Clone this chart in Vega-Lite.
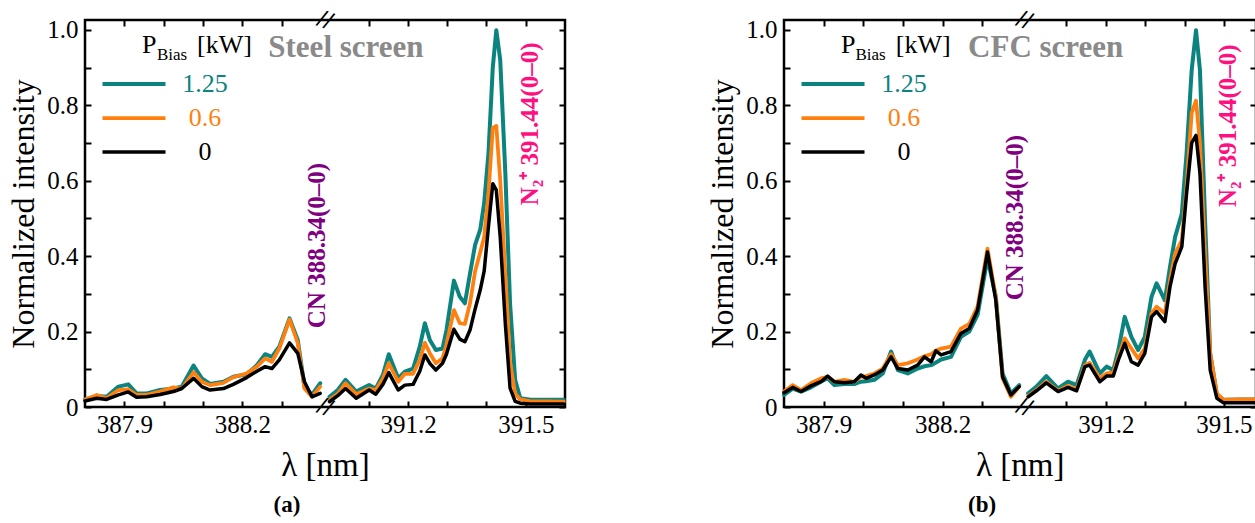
{
  "$schema": "https://vega.github.io/schema/vega-lite/v6.json",
  "padding": {"left": 6, "top": 4, "right": 0, "bottom": 0},
  "spacing": 137,
  "config": {
    "font": "Liberation Serif",
    "view": {"stroke": "black", "strokeWidth": 2.5},
    "axis": {"grid": false, "domain": false, "tickColor": "black", "tickWidth": 2, "labelColor": "black", "titleColor": "black", "labelFont": "Liberation Serif", "titleFont": "Liberation Serif"},
    "legend": {
      "orient": "none", "legendX": 36, "legendY": 51, "title": null, "padding": 0,
      "symbolType": "M-3,0H3", "symbolSize": 441, "rowPadding": 8,
      "labelFont": "Liberation Serif", "labelFontSize": 26, "labelAlign": "center", "labelBaseline": "middle", "labelOffset": 58,
      "labelColor": {"expr": "datum.value=='t' ? '#0b837f' : datum.value=='o' ? '#ff800e' : '#000000'"}
    }
  },
  "resolve": {
    "scale": {"x": "independent", "y": "independent", "color": "independent", "strokeWidth": "independent"},
    "legend": {"color": "independent", "strokeWidth": "independent"}
  },
  "datasets": {
    "spec": [
      {"p":"a","g":"L","x":387.800,"t":0.020,"o":0.019,"k":0.016},
      {"p":"a","g":"L","x":387.830,"t":0.029,"o":0.032,"k":0.023},
      {"p":"a","g":"L","x":387.855,"t":0.027,"o":0.023,"k":0.020},
      {"p":"a","g":"L","x":387.885,"t":0.054,"o":0.045,"k":0.032},
      {"p":"a","g":"L","x":387.910,"t":0.060,"o":0.047,"k":0.040},
      {"p":"a","g":"L","x":387.931,"t":0.036,"o":0.032,"k":0.026},
      {"p":"a","g":"L","x":387.957,"t":0.036,"o":0.032,"k":0.027},
      {"p":"a","g":"L","x":387.991,"t":0.045,"o":0.041,"k":0.033},
      {"p":"a","g":"L","x":388.025,"t":0.049,"o":0.052,"k":0.041},
      {"p":"a","g":"L","x":388.046,"t":0.054,"o":0.049,"k":0.049},
      {"p":"a","g":"L","x":388.076,"t":0.110,"o":0.092,"k":0.076},
      {"p":"a","g":"L","x":388.097,"t":0.076,"o":0.067,"k":0.054},
      {"p":"a","g":"L","x":388.118,"t":0.061,"o":0.058,"k":0.045},
      {"p":"a","g":"L","x":388.152,"t":0.067,"o":0.064,"k":0.049},
      {"p":"a","g":"L","x":388.177,"t":0.080,"o":0.079,"k":0.060},
      {"p":"a","g":"L","x":388.211,"t":0.087,"o":0.089,"k":0.078},
      {"p":"a","g":"L","x":388.237,"t":0.111,"o":0.107,"k":0.095},
      {"p":"a","g":"L","x":388.258,"t":0.140,"o":0.129,"k":0.107},
      {"p":"a","g":"L","x":388.275,"t":0.133,"o":0.120,"k":0.102},
      {"p":"a","g":"L","x":388.294,"t":0.160,"o":0.155,"k":0.125},
      {"p":"a","g":"L","x":388.320,"t":0.235,"o":0.232,"k":0.170},
      {"p":"a","g":"L","x":388.341,"t":0.177,"o":0.169,"k":0.142},
      {"p":"a","g":"L","x":388.358,"t":0.054,"o":0.049,"k":0.067},
      {"p":"a","g":"L","x":388.377,"t":0.032,"o":0.027,"k":0.027},
      {"p":"a","g":"L","x":388.398,"t":0.063,"o":0.054,"k":0.036},
      {"p":"a","g":"R","x":391.000,"t":0.027,"o":0.019,"k":0.014},
      {"p":"a","g":"R","x":391.021,"t":0.045,"o":0.035,"k":0.030},
      {"p":"a","g":"R","x":391.041,"t":0.072,"o":0.063,"k":0.049},
      {"p":"a","g":"R","x":391.068,"t":0.041,"o":0.034,"k":0.023},
      {"p":"a","g":"R","x":391.101,"t":0.058,"o":0.049,"k":0.045},
      {"p":"a","g":"R","x":391.118,"t":0.049,"o":0.045,"k":0.034},
      {"p":"a","g":"R","x":391.136,"t":0.085,"o":0.075,"k":0.060},
      {"p":"a","g":"R","x":391.151,"t":0.140,"o":0.116,"k":0.091},
      {"p":"a","g":"R","x":391.175,"t":0.076,"o":0.067,"k":0.045},
      {"p":"a","g":"R","x":391.192,"t":0.094,"o":0.088,"k":0.058},
      {"p":"a","g":"R","x":391.213,"t":0.102,"o":0.088,"k":0.060},
      {"p":"a","g":"R","x":391.230,"t":0.160,"o":0.125,"k":0.095},
      {"p":"a","g":"R","x":391.243,"t":0.222,"o":0.170,"k":0.138},
      {"p":"a","g":"R","x":391.256,"t":0.177,"o":0.142,"k":0.115},
      {"p":"a","g":"R","x":391.271,"t":0.151,"o":0.116,"k":0.098},
      {"p":"a","g":"R","x":391.288,"t":0.155,"o":0.129,"k":0.116},
      {"p":"a","g":"R","x":391.298,"t":0.204,"o":0.165,"k":0.140},
      {"p":"a","g":"R","x":391.317,"t":0.335,"o":0.257,"k":0.206},
      {"p":"a","g":"R","x":391.332,"t":0.292,"o":0.222,"k":0.180},
      {"p":"a","g":"R","x":391.345,"t":0.275,"o":0.220,"k":0.173},
      {"p":"a","g":"R","x":391.358,"t":0.354,"o":0.275,"k":0.204},
      {"p":"a","g":"R","x":391.371,"t":0.430,"o":0.360,"k":0.260},
      {"p":"a","g":"R","x":391.384,"t":0.470,"o":0.410,"k":0.310},
      {"p":"a","g":"R","x":391.394,"t":0.540,"o":0.450,"k":0.360},
      {"p":"a","g":"R","x":391.405,"t":0.672,"o":0.566,"k":0.478},
      {"p":"a","g":"R","x":391.416,"t":0.900,"o":0.740,"k":0.592},
      {"p":"a","g":"R","x":391.425,"t":0.999,"o":0.745,"k":0.575},
      {"p":"a","g":"R","x":391.435,"t":0.920,"o":0.600,"k":0.450},
      {"p":"a","g":"R","x":391.448,"t":0.620,"o":0.350,"k":0.220},
      {"p":"a","g":"R","x":391.460,"t":0.275,"o":0.120,"k":0.050},
      {"p":"a","g":"R","x":391.473,"t":0.072,"o":0.035,"k":0.015},
      {"p":"a","g":"R","x":391.486,"t":0.023,"o":0.020,"k":0.010},
      {"p":"a","g":"R","x":391.512,"t":0.019,"o":0.015,"k":0.008},
      {"p":"a","g":"R","x":391.554,"t":0.019,"o":0.015,"k":0.008},
      {"p":"a","g":"R","x":391.597,"t":0.019,"o":0.014,"k":0.008},
      {"p":"b","g":"L","x":387.800,"t":0.032,"o":0.041,"k":0.038},
      {"p":"b","g":"L","x":387.822,"t":0.049,"o":0.058,"k":0.052},
      {"p":"b","g":"L","x":387.843,"t":0.041,"o":0.045,"k":0.041},
      {"p":"b","g":"L","x":387.868,"t":0.052,"o":0.063,"k":0.056},
      {"p":"b","g":"L","x":387.893,"t":0.067,"o":0.076,"k":0.067},
      {"p":"b","g":"L","x":387.910,"t":0.076,"o":0.080,"k":0.082},
      {"p":"b","g":"L","x":387.927,"t":0.058,"o":0.067,"k":0.067},
      {"p":"b","g":"L","x":387.952,"t":0.061,"o":0.072,"k":0.064},
      {"p":"b","g":"L","x":387.977,"t":0.061,"o":0.067,"k":0.067},
      {"p":"b","g":"L","x":387.994,"t":0.067,"o":0.080,"k":0.085},
      {"p":"b","g":"L","x":388.007,"t":0.068,"o":0.082,"k":0.076},
      {"p":"b","g":"L","x":388.028,"t":0.072,"o":0.089,"k":0.085},
      {"p":"b","g":"L","x":388.049,"t":0.089,"o":0.102,"k":0.098},
      {"p":"b","g":"L","x":388.070,"t":0.147,"o":0.140,"k":0.133},
      {"p":"b","g":"L","x":388.087,"t":0.098,"o":0.111,"k":0.102},
      {"p":"b","g":"L","x":388.112,"t":0.089,"o":0.116,"k":0.098},
      {"p":"b","g":"L","x":388.137,"t":0.102,"o":0.126,"k":0.111},
      {"p":"b","g":"L","x":388.154,"t":0.108,"o":0.135,"k":0.133},
      {"p":"b","g":"L","x":388.171,"t":0.111,"o":0.140,"k":0.120},
      {"p":"b","g":"L","x":388.183,"t":0.118,"o":0.150,"k":0.149},
      {"p":"b","g":"L","x":388.196,"t":0.126,"o":0.155,"k":0.138},
      {"p":"b","g":"L","x":388.221,"t":0.133,"o":0.160,"k":0.147},
      {"p":"b","g":"L","x":388.246,"t":0.186,"o":0.208,"k":0.195},
      {"p":"b","g":"L","x":388.267,"t":0.200,"o":0.220,"k":0.208},
      {"p":"b","g":"L","x":388.288,"t":0.244,"o":0.266,"k":0.257},
      {"p":"b","g":"L","x":388.313,"t":0.394,"o":0.420,"k":0.411},
      {"p":"b","g":"L","x":388.334,"t":0.292,"o":0.292,"k":0.283},
      {"p":"b","g":"L","x":388.351,"t":0.089,"o":0.076,"k":0.080},
      {"p":"b","g":"L","x":388.372,"t":0.036,"o":0.027,"k":0.032},
      {"p":"b","g":"L","x":388.393,"t":0.058,"o":0.054,"k":0.054},
      {"p":"b","g":"R","x":391.003,"t":0.036,"o":0.029,"k":0.027},
      {"p":"b","g":"R","x":391.024,"t":0.054,"o":0.045,"k":0.043},
      {"p":"b","g":"R","x":391.049,"t":0.082,"o":0.067,"k":0.064},
      {"p":"b","g":"R","x":391.079,"t":0.049,"o":0.043,"k":0.041},
      {"p":"b","g":"R","x":391.104,"t":0.067,"o":0.056,"k":0.052},
      {"p":"b","g":"R","x":391.126,"t":0.058,"o":0.047,"k":0.043},
      {"p":"b","g":"R","x":391.147,"t":0.125,"o":0.111,"k":0.107},
      {"p":"b","g":"R","x":391.159,"t":0.147,"o":0.117,"k":0.111},
      {"p":"b","g":"R","x":391.185,"t":0.089,"o":0.076,"k":0.067},
      {"p":"b","g":"R","x":391.202,"t":0.107,"o":0.089,"k":0.082},
      {"p":"b","g":"R","x":391.219,"t":0.098,"o":0.091,"k":0.082},
      {"p":"b","g":"R","x":391.232,"t":0.151,"o":0.133,"k":0.125},
      {"p":"b","g":"R","x":391.248,"t":0.239,"o":0.182,"k":0.169},
      {"p":"b","g":"R","x":391.265,"t":0.186,"o":0.155,"k":0.120},
      {"p":"b","g":"R","x":391.282,"t":0.151,"o":0.129,"k":0.111},
      {"p":"b","g":"R","x":391.299,"t":0.186,"o":0.155,"k":0.142},
      {"p":"b","g":"R","x":391.316,"t":0.292,"o":0.248,"k":0.239},
      {"p":"b","g":"R","x":391.329,"t":0.328,"o":0.266,"k":0.253},
      {"p":"b","g":"R","x":391.350,"t":0.283,"o":0.248,"k":0.226},
      {"p":"b","g":"R","x":391.363,"t":0.372,"o":0.336,"k":0.319},
      {"p":"b","g":"R","x":391.376,"t":0.451,"o":0.407,"k":0.380},
      {"p":"b","g":"R","x":391.393,"t":0.513,"o":0.442,"k":0.425},
      {"p":"b","g":"R","x":391.405,"t":0.672,"o":0.584,"k":0.566},
      {"p":"b","g":"R","x":391.418,"t":0.893,"o":0.780,"k":0.700},
      {"p":"b","g":"R","x":391.429,"t":0.999,"o":0.812,"k":0.720},
      {"p":"b","g":"R","x":391.439,"t":0.893,"o":0.700,"k":0.620},
      {"p":"b","g":"R","x":391.452,"t":0.495,"o":0.407,"k":0.319},
      {"p":"b","g":"R","x":391.465,"t":0.142,"o":0.142,"k":0.098},
      {"p":"b","g":"R","x":391.482,"t":0.032,"o":0.036,"k":0.023},
      {"p":"b","g":"R","x":391.499,"t":0.019,"o":0.019,"k":0.011},
      {"p":"b","g":"R","x":391.541,"t":0.020,"o":0.020,"k":0.011},
      {"p":"b","g":"R","x":391.580,"t":0.020,"o":0.020,"k":0.011}
    ],
    "ann": [
      {"p":"a","k":"title","x":388.266,"y":0.927,"t":"Steel screen"},
      {"p":"a","k":"cn","x":388.39,"y":0.209,"t":"CN 388.34(0–0)"},
      {"p":"a","k":"n2","x":391.51,"y":0.535,"t":"N₂⁺ 391.44(0–0)"},
      {"p":"a","k":"leg","x":387.945,"y":0.938,"t":"P"},
      {"p":"a","k":"leg","x":388.085,"y":0.938,"t":"[kW]"},
      {"p":"a","k":"sub","x":387.983,"y":0.919,"t":"Bias"},
      {"p":"a","k":"brk","x":389.7,"y":0,"t":"//"},
      {"p":"a","k":"brk","x":389.7,"y":1.026,"t":"//"},
      {"p":"b","k":"title","x":388.264,"y":0.927,"t":"CFC screen"},
      {"p":"b","k":"cn","x":388.382,"y":0.283,"t":"CN 388.34(0–0)"},
      {"p":"b","k":"n2","x":391.511,"y":0.53,"t":"N₂⁺ 391.44(0–0)"},
      {"p":"b","k":"leg","x":387.944,"y":0.938,"t":"P"},
      {"p":"b","k":"leg","x":388.082,"y":0.938,"t":"[kW]"},
      {"p":"b","k":"sub","x":387.98,"y":0.919,"t":"Bias"},
      {"p":"b","k":"brk","x":389.7,"y":0,"t":"//"},
      {"p":"b","k":"brk","x":389.7,"y":1.026,"t":"//"}
    ]
  },
  "hconcat": [
    {
      "width": 480, "height": 387,
      "title": {"text": "(a)", "orient": "bottom", "frame": "bounds", "anchor": "middle", "fontSize": 23, "fontWeight": "bold", "font": "Liberation Serif", "color": "black", "offset": 12},
      "resolve": {"axis": {"x": "independent", "y": "independent"}},
      "layer": [
        {
          "data": {"name": "spec"},
          "transform": [{"filter": "datum.p=='a'"}, {"fold": ["t", "o", "k"], "as": ["s", "y"]}],
          "mark": {"type": "line", "strokeJoin": "round", "strokeCap": "round"},
          "encoding": {
            "x": {"field": "x", "type": "quantitative",
              "scale": {"type": "linear", "domain": [387.8, 388.4, 391.0, 391.6], "range": [0, 236, 244.5, 480], "nice": false, "zero": false},
              "axis": {"values": [387.9, 388.0, 388.1, 388.2, 388.3, 391.1, 391.2, 391.3, 391.4, 391.5],
                "labelExpr": "(datum.value==387.9||datum.value==388.2||datum.value==391.2||datum.value==391.5) ? format(datum.value,'.1f') : ''",
                "tickSize": -6, "labelPadding": 11, "labelFontSize": 25, "labelFlush": false, "labelOverlap": false,
                "title": "λ [nm]", "titleFontSize": 33, "titleFontWeight": "normal", "titlePadding": 12}},
            "y": {"field": "y", "type": "quantitative",
              "scale": {"domain": [0, 1.026], "nice": false, "zero": false},
              "axis": {"values": [0, 0.1, 0.2, 0.3, 0.4, 0.5, 0.6, 0.7, 0.8, 0.9, 1.0],
                "labelExpr": "round(datum.value*10)%2==0 ? (datum.value==0 ? '0' : format(datum.value,'.1f')) : ''",
                "tickSize": -6, "labelPadding": 13, "labelFontSize": 25, "labelFlush": false, "labelOverlap": false,
                "title": "Normalized intensity", "titleFontSize": 32, "titleFontWeight": "normal", "titlePadding": 6}},
            "color": {"field": "s", "type": "nominal", "scale": {"domain": ["t", "o", "k"], "range": ["#0b837f", "#ff800e", "#000000"]},
              "legend": {"labelExpr": "datum.value=='t' ? '1.25' : datum.value=='o' ? '0.6' : '0'"}},
            "strokeWidth": {"field": "s", "type": "ordinal", "scale": {"domain": ["t", "o", "k"], "range": [4, 3.5, 3]},
              "legend": {"labelExpr": "datum.value=='t' ? '1.25' : datum.value=='o' ? '0.6' : '0'"}},
            "detail": {"field": "g"}
          }
        },
        {
          "data": {"name": "ann"},
          "transform": [{"filter": "datum.p=='a' && datum.k=='title'"}],
          "mark": {"type": "text", "font": "Liberation Serif", "fontWeight": "bold", "fontSize": 31, "color": "#8a8a8a", "align": "left", "baseline": "alphabetic"},
          "encoding": {"x": {"field": "x", "type": "quantitative", "axis": null}, "y": {"field": "y", "type": "quantitative", "axis": null}, "text": {"field": "t"}}
        },
        {
          "data": {"name": "ann"},
          "transform": [{"filter": "datum.p=='a' && datum.k=='cn'"}],
          "mark": {"type": "text", "font": "Liberation Serif", "fontWeight": "bold", "fontSize": 25, "color": "#800080", "align": "left", "baseline": "middle", "angle": 270},
          "encoding": {"x": {"field": "x", "type": "quantitative", "axis": null}, "y": {"field": "y", "type": "quantitative", "axis": null}, "text": {"field": "t"}}
        },
        {
          "data": {"name": "ann"},
          "transform": [{"filter": "datum.p=='a' && datum.k=='n2'"}],
          "mark": {"type": "text", "font": "Liberation Serif", "fontWeight": "bold", "fontSize": 25, "color": "#ff1080", "align": "left", "baseline": "middle", "angle": 270},
          "encoding": {"x": {"field": "x", "type": "quantitative", "axis": null}, "y": {"field": "y", "type": "quantitative", "axis": null}, "text": {"field": "t"}}
        },
        {
          "data": {"name": "ann"},
          "transform": [{"filter": "datum.p=='a' && datum.k=='leg'"}],
          "mark": {"type": "text", "font": "Liberation Serif", "fontSize": 26, "color": "black", "align": "left", "baseline": "alphabetic"},
          "encoding": {"x": {"field": "x", "type": "quantitative", "axis": null}, "y": {"field": "y", "type": "quantitative", "axis": null}, "text": {"field": "t"}}
        },
        {
          "data": {"name": "ann"},
          "transform": [{"filter": "datum.p=='a' && datum.k=='sub'"}],
          "mark": {"type": "text", "font": "Liberation Serif", "fontSize": 17, "color": "black", "align": "left", "baseline": "alphabetic"},
          "encoding": {"x": {"field": "x", "type": "quantitative", "axis": null}, "y": {"field": "y", "type": "quantitative", "axis": null}, "text": {"field": "t"}}
        },
        {
          "data": {"name": "ann"},
          "transform": [{"filter": "datum.p=='a' && datum.k=='brk'"}],
          "mark": {"type": "text", "font": "Liberation Serif", "fontWeight": "bold", "fontSize": 26, "angle": 20, "color": "black", "align": "center", "baseline": "middle"},
          "encoding": {
            "x": {"field": "x", "type": "quantitative", "axis": {"orient": "top", "values": [387.9, 388.0, 388.1, 388.2, 388.3, 391.1, 391.2, 391.3, 391.4, 391.5], "labels": false, "tickSize": -6, "title": null}},
            "y": {"field": "y", "type": "quantitative", "axis": {"orient": "right", "values": [0, 0.1, 0.2, 0.3, 0.4, 0.5, 0.6, 0.7, 0.8, 0.9, 1.0], "labels": false, "tickSize": -6, "title": null}},
            "text": {"field": "t"}
          }
        }
      ]
    },
    {
      "width": 472, "height": 387,
      "title": {"text": "(b)", "orient": "bottom", "frame": "bounds", "anchor": "middle", "fontSize": 23, "fontWeight": "bold", "font": "Liberation Serif", "color": "black", "offset": 12},
      "resolve": {"axis": {"x": "independent", "y": "independent"}},
      "layer": [
        {
          "data": {"name": "spec"},
          "transform": [{"filter": "datum.p=='b'"}, {"fold": ["t", "o", "k"], "as": ["s", "y"]}],
          "mark": {"type": "line", "strokeJoin": "round", "strokeCap": "round"},
          "encoding": {
            "x": {"field": "x", "type": "quantitative",
              "scale": {"type": "linear", "domain": [387.8, 388.4, 391.0, 391.58], "range": [0, 238, 243, 471.5], "nice": false, "zero": false},
              "axis": {"values": [387.9, 388.0, 388.1, 388.2, 388.3, 391.1, 391.2, 391.3, 391.4, 391.5],
                "labelExpr": "(datum.value==387.9||datum.value==388.2||datum.value==391.2||datum.value==391.5) ? format(datum.value,'.1f') : ''",
                "tickSize": -6, "labelPadding": 11, "labelFontSize": 25, "labelFlush": false, "labelOverlap": false,
                "title": "λ [nm]", "titleFontSize": 33, "titleFontWeight": "normal", "titlePadding": 12}},
            "y": {"field": "y", "type": "quantitative",
              "scale": {"domain": [0, 1.026], "nice": false, "zero": false},
              "axis": {"values": [0, 0.1, 0.2, 0.3, 0.4, 0.5, 0.6, 0.7, 0.8, 0.9, 1.0],
                "labelExpr": "round(datum.value*10)%2==0 ? (datum.value==0 ? '0' : format(datum.value,'.1f')) : ''",
                "tickSize": -6, "labelPadding": 13, "labelFontSize": 25, "labelFlush": false, "labelOverlap": false,
                "title": "Normalized intensity", "titleFontSize": 32, "titleFontWeight": "normal", "titlePadding": 6}},
            "color": {"field": "s", "type": "nominal", "scale": {"domain": ["t", "o", "k"], "range": ["#0b837f", "#ff800e", "#000000"]},
              "legend": {"labelExpr": "datum.value=='t' ? '1.25' : datum.value=='o' ? '0.6' : '0'"}},
            "strokeWidth": {"field": "s", "type": "ordinal", "scale": {"domain": ["t", "o", "k"], "range": [4, 3.5, 3]},
              "legend": {"labelExpr": "datum.value=='t' ? '1.25' : datum.value=='o' ? '0.6' : '0'"}},
            "detail": {"field": "g"}
          }
        },
        {
          "data": {"name": "ann"},
          "transform": [{"filter": "datum.p=='b' && datum.k=='title'"}],
          "mark": {"type": "text", "font": "Liberation Serif", "fontWeight": "bold", "fontSize": 31, "color": "#8a8a8a", "align": "left", "baseline": "alphabetic"},
          "encoding": {"x": {"field": "x", "type": "quantitative", "axis": null}, "y": {"field": "y", "type": "quantitative", "axis": null}, "text": {"field": "t"}}
        },
        {
          "data": {"name": "ann"},
          "transform": [{"filter": "datum.p=='b' && datum.k=='cn'"}],
          "mark": {"type": "text", "font": "Liberation Serif", "fontWeight": "bold", "fontSize": 25, "color": "#800080", "align": "left", "baseline": "middle", "angle": 270},
          "encoding": {"x": {"field": "x", "type": "quantitative", "axis": null}, "y": {"field": "y", "type": "quantitative", "axis": null}, "text": {"field": "t"}}
        },
        {
          "data": {"name": "ann"},
          "transform": [{"filter": "datum.p=='b' && datum.k=='n2'"}],
          "mark": {"type": "text", "font": "Liberation Serif", "fontWeight": "bold", "fontSize": 25, "color": "#ff1080", "align": "left", "baseline": "middle", "angle": 270},
          "encoding": {"x": {"field": "x", "type": "quantitative", "axis": null}, "y": {"field": "y", "type": "quantitative", "axis": null}, "text": {"field": "t"}}
        },
        {
          "data": {"name": "ann"},
          "transform": [{"filter": "datum.p=='b' && datum.k=='leg'"}],
          "mark": {"type": "text", "font": "Liberation Serif", "fontSize": 26, "color": "black", "align": "left", "baseline": "alphabetic"},
          "encoding": {"x": {"field": "x", "type": "quantitative", "axis": null}, "y": {"field": "y", "type": "quantitative", "axis": null}, "text": {"field": "t"}}
        },
        {
          "data": {"name": "ann"},
          "transform": [{"filter": "datum.p=='b' && datum.k=='sub'"}],
          "mark": {"type": "text", "font": "Liberation Serif", "fontSize": 17, "color": "black", "align": "left", "baseline": "alphabetic"},
          "encoding": {"x": {"field": "x", "type": "quantitative", "axis": null}, "y": {"field": "y", "type": "quantitative", "axis": null}, "text": {"field": "t"}}
        },
        {
          "data": {"name": "ann"},
          "transform": [{"filter": "datum.p=='b' && datum.k=='brk'"}],
          "mark": {"type": "text", "font": "Liberation Serif", "fontWeight": "bold", "fontSize": 26, "angle": 20, "color": "black", "align": "center", "baseline": "middle"},
          "encoding": {
            "x": {"field": "x", "type": "quantitative", "axis": {"orient": "top", "values": [387.9, 388.0, 388.1, 388.2, 388.3, 391.1, 391.2, 391.3, 391.4, 391.5], "labels": false, "tickSize": -6, "title": null}},
            "y": {"field": "y", "type": "quantitative", "axis": {"orient": "right", "values": [0, 0.1, 0.2, 0.3, 0.4, 0.5, 0.6, 0.7, 0.8, 0.9, 1.0], "labels": false, "tickSize": -6, "title": null}},
            "text": {"field": "t"}
          }
        }
      ]
    }
  ]
}
